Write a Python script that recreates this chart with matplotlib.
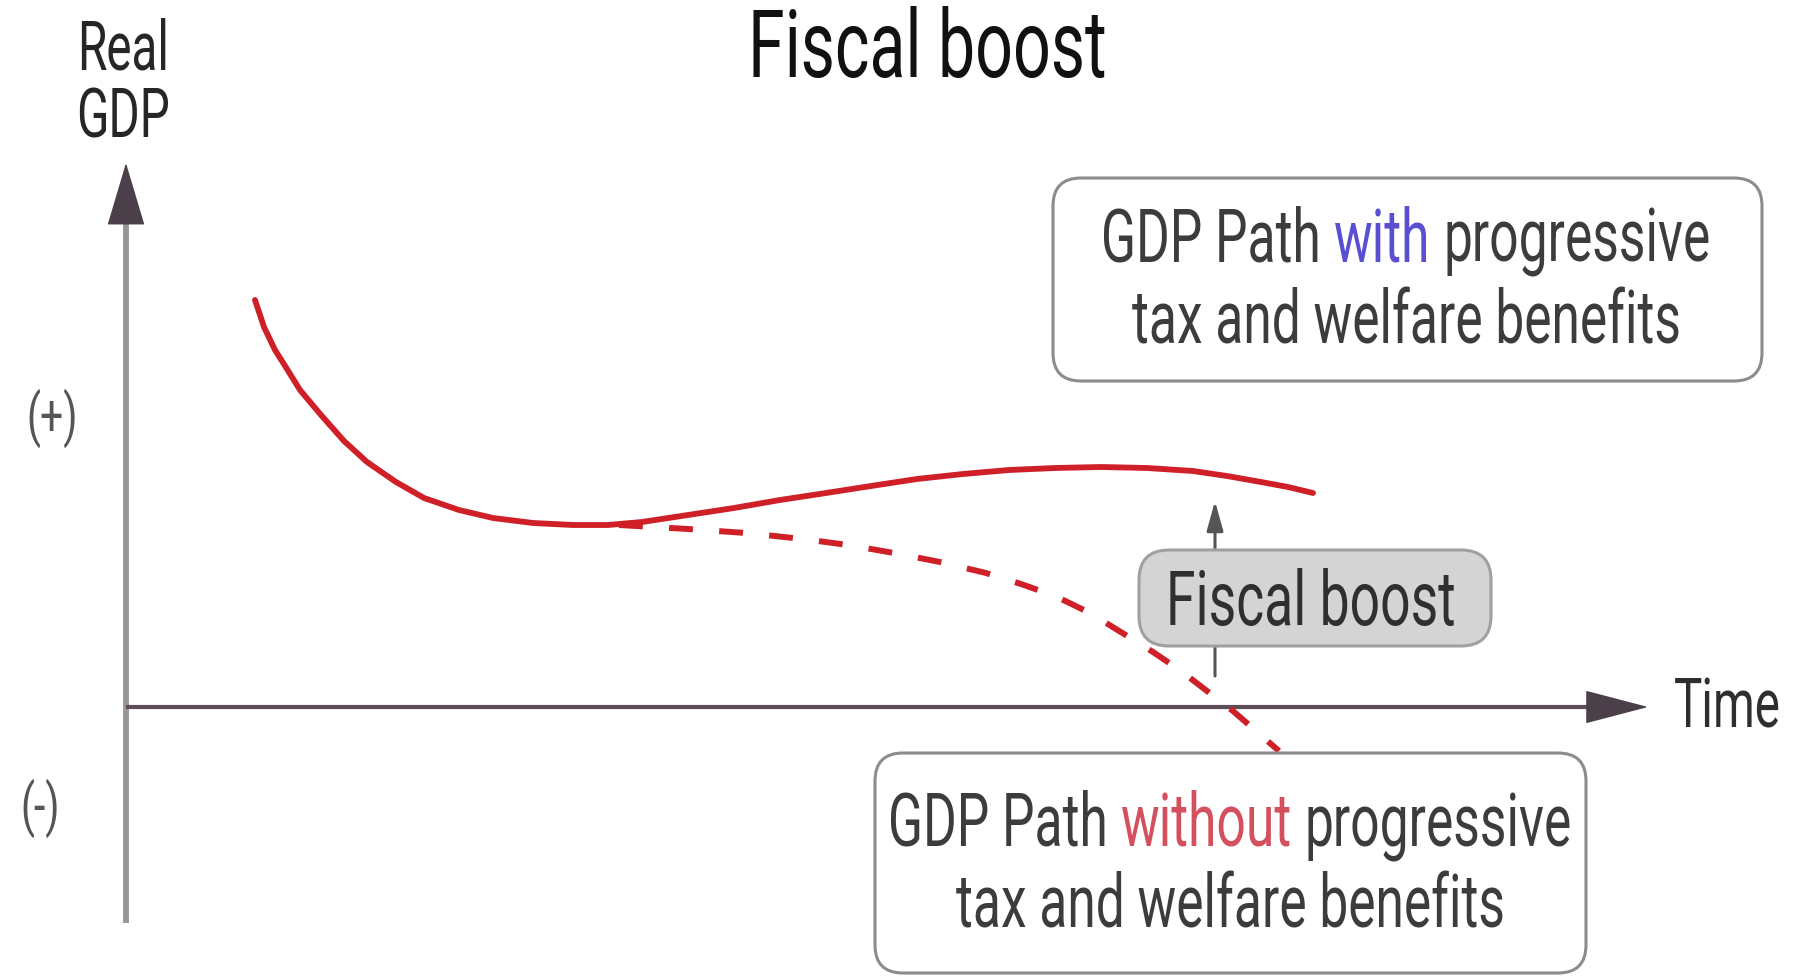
import os
import tempfile

import matplotlib
matplotlib.use("Agg")
import matplotlib.pyplot as plt
from matplotlib import font_manager
from matplotlib.patches import FancyBboxPatch

# GDP path with progressive tax and welfare benefits (time, real GDP)
with_time = [1.29, 1.38, 1.49, 1.61, 1.74, 1.95, 2.18, 2.41, 2.70, 2.98, 3.33, 3.67,
             4.07, 4.47, 4.82, 5.16, 5.62, 6.08, 6.54, 7.00, 7.45, 7.91, 8.37, 8.83,
             9.29, 9.75, 10.21, 10.67, 11.01, 11.35, 11.62, 11.87]
with_gdp = [4.07, 3.80, 3.57, 3.38, 3.17, 2.92, 2.66, 2.45, 2.25, 2.09, 1.97, 1.89,
            1.84, 1.82, 1.82, 1.85, 1.92, 1.99, 2.07, 2.14, 2.21, 2.28, 2.33, 2.37,
            2.39, 2.40, 2.39, 2.36, 2.31, 2.25, 2.20, 2.14]

# GDP path without progressive tax and welfare benefits
without_time = [4.93, 5.62, 6.20, 6.77, 7.22, 7.68, 8.14, 8.60, 8.95, 9.29, 9.64,
                9.98, 10.27, 10.55, 10.81, 11.07, 11.30, 11.53]
without_gdp = [1.82, 1.78, 1.74, 1.68, 1.62, 1.54, 1.45, 1.34, 1.23, 1.11, 0.94,
               0.73, 0.55, 0.36, 0.16, -0.04, -0.24, -0.44]

# Fiscal boost arrow: start and end level at a given time
boost_time = 10.89
boost_from, boost_to = 0.31, 2.06

title = "Fiscal boost"
y_label = ["Real", "GDP"]
x_label = "Time"
sign_labels = ["(+)", "(-)"]
sign_levels = [2.89, -1.01]

RED = "#cf2027"
TEXT = "#3c3c3c"


def build_condensed_font(base_family, factor, new_family):
    """Write a horizontally condensed copy of a TrueType family and register it."""
    from fontTools.ttLib import TTFont
    from fontTools.ttLib.tables import ttProgram

    src = font_manager.findfont(font_manager.FontProperties(family=base_family),
                                fallback_to_default=False)
    font = TTFont(src)
    if "glyf" not in font:
        raise ValueError("no TrueType outlines")
    for tag in ["fvar", "gvar", "avar", "STAT", "HVAR", "VVAR", "MVAR", "cvar",
                "fpgm", "prep", "cvt ", "hdmx", "VDMX", "LTSH", "kern",
                "GPOS", "GSUB", "GDEF", "DSIG"]:
        if tag in font:
            del font[tag]

    glyf = font["glyf"]
    hmtx = font["hmtx"]
    order = font.getGlyphOrder()
    for name in order:
        g = glyf[name]
        if g.isComposite():
            for comp in g.components:
                comp.x = int(round(comp.x * factor))
        elif g.numberOfContours > 0:
            coords = g.coordinates
            for i in range(len(coords)):
                x, y = coords[i]
                coords[i] = (int(round(x * factor)), y)
        if hasattr(g, "program"):
            g.program = ttProgram.Program()
            g.program.fromBytecode(b"")
    for name in order:
        g = glyf[name]
        adv, lsb = hmtx[name]
        if g.numberOfContours != 0:
            g.recalcBounds(glyf)
            lsb = g.xMin
        else:
            lsb = int(round(lsb * factor))
        hmtx[name] = (int(round(adv * factor)), lsb)

    name_table = font["name"]
    ps_name = new_family.replace(" ", "") + "-Regular"
    for rec in list(name_table.names):
        if rec.nameID in (1, 16):
            value = new_family
        elif rec.nameID == 4:
            value = new_family + " Regular"
        elif rec.nameID == 6:
            value = ps_name
        else:
            continue
        name_table.setName(value, rec.nameID, rec.platformID, rec.platEncID, rec.langID)

    out_dir = tempfile.mkdtemp()
    path = os.path.join(out_dir, ps_name + ".ttf")
    font.save(path)
    font_manager.fontManager.addfont(path)
    return new_family


try:
    FAMILY = build_condensed_font("Roboto", 0.70, "Roboto Squeezed")
except Exception:
    FAMILY = "Roboto"

plt.rcParams["font.family"] = [FAMILY, "Roboto", "DejaVu Sans"]

fig = plt.figure(figsize=(17.98, 9.76), dpi=100)
ax = fig.add_axes([0, 0, 1, 1])
ax.set_xlim(-1.26, 16.72)
ax.set_ylim(-2.69, 7.07)
ax.axis("off")

# axes with arrow heads
ax.plot([0, 0], [-2.16, 4.9], color="#9a9498", lw=4.2, solid_capstyle="butt", zorder=2)
ax.annotate("", xy=(0, 5.44), xytext=(0, 4.86),
            arrowprops=dict(arrowstyle="-|>,head_length=42,head_width=12.5",
                            mutation_scale=1, color="#4b3f49", lw=1,
                            shrinkA=0, shrinkB=0), zorder=3)
ax.plot([0, 14.7], [0, 0], color="#5b4e58", lw=3.0, solid_capstyle="butt", zorder=2)
ax.annotate("", xy=(15.22, 0), xytext=(14.62, 0),
            arrowprops=dict(arrowstyle="-|>,head_length=42,head_width=11",
                            mutation_scale=1, color="#4b3f49", lw=1,
                            shrinkA=0, shrinkB=0), zorder=3)

# GDP paths
ax.plot(without_time, without_gdp, color=RED, lw=4.3, linestyle=(0, (4.0, 4.4)),
        dash_capstyle="butt", zorder=4)
ax.plot(with_time, with_gdp, color=RED, lw=4.2, solid_capstyle="round",
        solid_joinstyle="round", zorder=5)

# fiscal boost arrow
ax.annotate("", xy=(boost_time, boost_to), xytext=(boost_time, boost_from),
            arrowprops=dict(arrowstyle="-|>,head_length=18,head_width=5",
                            mutation_scale=1, color="#555555", lw=2.2,
                            shrinkA=0, shrinkB=0), zorder=3)

# labels
ax.text(8.01, 6.30, title, ha="center", va="baseline", fontsize=68, color="#111111")
ax.text(-0.03, 6.38, y_label[0], ha="center", va="baseline", fontsize=49,
        color="#262626")
ax.text(-0.03, 5.69, y_label[1], ha="center", va="baseline", fontsize=49,
        color="#262626")
ax.text(-0.74, sign_levels[0], sign_labels[0], ha="center", va="center", fontsize=42,
        color="#555555")
ax.text(-0.86, sign_levels[1], sign_labels[1], ha="center", va="center", fontsize=42,
        color="#555555")
ax.text(15.48, -0.21, x_label, ha="left", va="baseline", fontsize=49, color="#2e2e2e")


# annotation boxes
def box(x0, y0, x1, y1, face, edge, r=0.28):
    p = FancyBboxPatch((x0 + r, y0 + r), (x1 - x0) - 2 * r, (y1 - y0) - 2 * r,
                       boxstyle=f"round,pad={r}", facecolor=face, edgecolor=edge,
                       lw=2.2, zorder=6)
    ax.add_patch(p)


box(9.27, 3.26, 16.36, 5.29, "white", "#8c8c8c")
box(10.13, 0.61, 13.65, 1.57, "#d4d4d4", "#a0a0a0", r=0.3)
box(7.49, -2.66, 14.60, -0.46, "white", "#8c8c8c")

ax.text(11.85, 0.82, "Fiscal boost", ha="center", va="baseline", fontsize=55,
        color="#2f2f2f", zorder=7)

renderer = fig.canvas.get_renderer()
inv = ax.transData.inverted()


def text_width(s, size):
    t = ax.text(0, 0, s, fontsize=size)
    w = t.get_window_extent(renderer).width
    t.remove()
    return w


def mixed_line(xc, y, parts, size):
    """Centre a line built from differently coloured words."""
    space = text_width("a a", size) - text_width("aa", size)
    widths = [text_width(s, size) for s, _ in parts]
    total = sum(widths) + space * (len(parts) - 1)
    xd, yd = ax.transData.transform((xc, y))
    cur = xd - total / 2
    for (s, c), w in zip(parts, widths):
        xx, _ = inv.transform((cur, yd))
        ax.text(xx, y, s, ha="left", va="baseline", fontsize=size, color=c, zorder=7)
        cur += w + space


BOX_SIZE = 53
mixed_line(12.80, 4.46, [("GDP Path", TEXT), ("with", "#5a4fd0"),
                         ("progressive", TEXT)], BOX_SIZE)
ax.text(12.80, 3.63, "tax and welfare benefits", ha="center", va="baseline",
        fontsize=BOX_SIZE, color=TEXT, zorder=7)

mixed_line(11.04, -1.39, [("GDP Path", TEXT), ("without", "#d4505e"),
                          ("progressive", TEXT)], BOX_SIZE)
ax.text(11.04, -2.20, "tax and welfare benefits", ha="center", va="baseline",
        fontsize=BOX_SIZE, color=TEXT, zorder=7)

fig.savefig("out.png", dpi=100, facecolor="white")
